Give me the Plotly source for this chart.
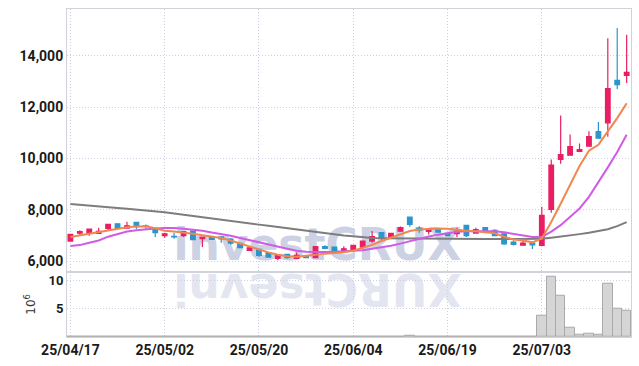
import plotly.graph_objects as go
from plotly.subplots import make_subplots

dates = ["25/04/17", "25/04/18", "25/04/21", "25/04/22", "25/04/23", "25/04/24", "25/04/25",
         "25/04/28", "25/04/29", "25/04/30", "25/05/02", "25/05/07", "25/05/08", "25/05/09",
         "25/05/12", "25/05/13", "25/05/14", "25/05/15", "25/05/16", "25/05/19", "25/05/20",
         "25/05/21", "25/05/22", "25/05/23", "25/05/26", "25/05/27", "25/05/28", "25/05/29",
         "25/05/30", "25/06/02", "25/06/04", "25/06/05", "25/06/09", "25/06/10", "25/06/11",
         "25/06/12", "25/06/13", "25/06/16", "25/06/17", "25/06/18", "25/06/19", "25/06/20",
         "25/06/23", "25/06/24", "25/06/25", "25/06/26", "25/06/27", "25/06/30", "25/07/01",
         "25/07/02", "25/07/03", "25/07/04", "25/07/07", "25/07/08", "25/07/09", "25/07/10",
         "25/07/11", "25/07/14", "25/07/15", "25/07/16"]

opens = [6780, 7090, 7090, 7080, 7270, 7455, 7285, 7505, 7370, 7260,
         6990, 6960, 6990, 7170, 6870, 6950, 6940, 6855, 6690, 6415,
         6455, 6330, 6105, 6260, 6105, 6180, 6130, 6560, 6545, 6415,
         6415, 6545, 6780, 7105, 6910, 7165, 7710, 7285, 7155, 7245,
         7080, 7065, 7390, 7090, 7300, 7195, 7060, 6740, 6620, 6700,
         6610, 8010, 9960, 10125, 10270, 10475, 11045, 11385, 13040, 13235]
highs = [7060, 7200, 7250, 7300, 7440, 7460, 7530, 7530, 7420, 7270,
         7100, 7100, 7150, 7180, 6950, 6960, 6960, 6900, 6700, 6560,
         6470, 6350, 6250, 6290, 6330, 6200, 6570, 6620, 6550, 6580,
         6620, 6790, 7170, 7110, 7100, 7350, 7740, 7360, 7280, 7260,
         7100, 7300, 7400, 7300, 7310, 7240, 7080, 6800, 6780, 6710,
         8120, 9960, 11670, 10930, 10580, 11060, 11420, 14680, 15080, 14820]
lows = [6760, 7010, 6990, 7070, 7190, 7260, 7270, 7245, 7250, 6935,
        6910, 6870, 6935, 6820, 6545, 6830, 6710, 6640, 6500, 6400,
        6170, 6140, 6030, 6090, 6090, 6110, 6120, 6460, 6380, 6370,
        6400, 6480, 6715, 6815, 6900, 7140, 7340, 7100, 7040, 7110,
        6980, 6935, 6935, 7070, 7130, 6980, 6640, 6610, 6600, 6470,
        6600, 7880, 9790, 10120, 10260, 10460, 10770, 10840, 12700, 12940]
closes = [7040, 7150, 7245, 7155, 7430, 7272, 7375, 7340, 7350, 7105,
          7065, 6940, 7145, 6830, 6935, 6845, 6860, 6700, 6520, 6520,
          6220, 6155, 6235, 6130, 6220, 6135, 6560, 6495, 6390, 6480,
          6610, 6780, 6950, 6910, 7080, 7300, 7430, 7205, 7260, 7130,
          6990, 7165, 6990, 7230, 7145, 6990, 6670, 6650, 6700, 6630,
          7780, 9735, 10150, 10460, 10345, 10850, 10785, 12720, 12875, 13350]

ma_short = [6935, 7000, 7040, 7105, 7190, 7260, 7320, 7350, 7360, 7280,
            7180, 7150, 7120, 7066, 7010, 6950, 6900, 6800, 6680, 6560,
            6450, 6340, 6250, 6190, 6170, 6200, 6250, 6290, 6320, 6340,
            6400, 6500, 6630, 6780, 6910, 7040, 7170, 7230, 7260, 7270,
            7260, 7210, 7180, 7160, 7130, 7080, 6950, 6840, 6800, 6730,
            6880, 7520, 8230, 8970, 9700, 10300, 10530, 11050, 11570, 12150]
ma_mid = [6584, 6622, 6716, 6800, 6950, 7060, 7150, 7200, 7240, 7270,
          7290, 7290, 7260, 7230, 7180, 7110, 7060, 6990, 6900, 6810,
          6720, 6650, 6560, 6480, 6400, 6360, 6350, 6350, 6355, 6380,
          6400, 6420, 6480, 6530, 6600, 6680, 6780, 6880, 6960, 7030,
          7090, 7140, 7160, 7170, 7170, 7165, 7120, 7060, 6990, 6940,
          6935, 7150, 7400, 7720, 8050, 8500, 9060, 9650, 10250, 10920]
ma_long = [8225, 8190, 8150, 8116, 8090, 8065, 8040, 8010, 7984, 7950,
           7900, 7850, 7800, 7750, 7700, 7660, 7610, 7560, 7510, 7466,
           7420, 7380, 7330, 7290, 7245, 7200, 7150, 7100, 7050, 7000,
           6970, 6925, 6900, 6890, 6885, 6880, 6875, 6872, 6870, 6868,
           6866, 6864, 6862, 6860, 6860, 6860, 6860, 6860, 6860, 6860,
           6870, 6910, 6950, 7000, 7050, 7105, 7165, 7240, 7360, 7520]

volume_m = [0.05, 0.04, 0.04, 0.03, 0.05, 0.04, 0.04, 0.05, 0.03, 0.04,
            0.04, 0.03, 0.03, 0.05, 0.04, 0.03, 0.03, 0.04, 0.04, 0.03,
            0.04, 0.03, 0.03, 0.03, 0.03, 0.02, 0.06, 0.03, 0.03, 0.03,
            0.04, 0.05, 0.08, 0.05, 0.04, 0.06, 0.22, 0.06, 0.04, 0.03,
            0.03, 0.04, 0.05, 0.03, 0.03, 0.03, 0.06, 0.04, 0.03, 0.04,
            3.8, 10.6, 7.35, 1.64, 0.4, 0.62, 0.4, 9.4, 5.0, 4.7]

y_ticks = [6000, 8000, 10000, 12000, 14000]
vol_ticks = [5, 10]
x_ticks = dates[::10]

UP = "#e91e63"
DOWN = "#2b95cc"
TICKFAM = "Roboto, Arial, sans-serif"
TICKFONT = dict(family=TICKFAM, size=14, color="#1a1a1a", weight="bold")
WMFAM = "DejaVu Sans, Arial, sans-serif"

fig = make_subplots(rows=2, cols=1, shared_xaxes=True, vertical_spacing=0,
                    row_heights=[0.801, 0.199])

fig.add_trace(go.Scatter(x=dates, y=ma_long, mode="lines",
                         line=dict(color="#7d7d7d", width=2), hoverinfo="skip"), row=1, col=1)
fig.add_trace(go.Scatter(x=dates, y=ma_mid, mode="lines",
                         line=dict(color="#cf5be6", width=2), hoverinfo="skip"), row=1, col=1)
fig.add_trace(go.Scatter(x=dates, y=ma_short, mode="lines",
                         line=dict(color="#f0874f", width=2), hoverinfo="skip"), row=1, col=1)
fig.add_trace(go.Candlestick(x=dates, open=opens, high=highs, low=lows, close=closes,
                             increasing=dict(line=dict(color=UP, width=1.2), fillcolor=UP),
                             decreasing=dict(line=dict(color=DOWN, width=1.2), fillcolor=DOWN),
                             whiskerwidth=0), row=1, col=1)
fig.add_trace(go.Bar(x=dates, y=volume_m, marker=dict(color="#d5d5d5",
                     line=dict(color="#aaaaaa", width=1)), hoverinfo="skip"), row=2, col=1)

# watermark (drawn beneath the data)
fig.add_shape(type="rect", xref="paper", yref="paper", x0=0.144, x1=0.744, y0=0.19, y1=0.39,
              layer="below", line=dict(width=0), fillcolor="rgba(0,0,0,0)",
              label=dict(text="investCRUX", textposition="middle center",
                         font=dict(family=WMFAM, size=44,
                                   color="rgba(198,203,225,0.9)", weight="bold")))
fig.add_shape(type="rect", xref="paper", yref="paper", x0=0.144, x1=0.744, y0=0.035, y1=0.235,
              layer="below", line=dict(width=0), fillcolor="rgba(0,0,0,0)",
              label=dict(text="XURCtsevni", textposition="middle center", textangle=180,
                         font=dict(family=WMFAM, size=44,
                                   color="rgba(222,225,238,0.85)", weight="bold")))

axis_common = dict(showline=True, linecolor="#d2d2da", linewidth=1, mirror=True,
                   showgrid=True, gridcolor="#cdd0e4", griddash="1px,2px", gridwidth=1,
                   zeroline=False, ticks="", automargin=False)

fig.update_xaxes(type="category", range=[-0.36, 59.46], tickvals=x_ticks, ticktext=x_ticks,
                 rangeslider=dict(visible=False), tickfont=TICKFONT, **axis_common)
fig.update_yaxes(range=[5585, 15820], tickvals=y_ticks, tickformat=",", tickfont=TICKFONT,
                 row=1, col=1, **axis_common)
fig.update_yaxes(range=[0, 11.5], tickvals=vol_ticks,
                 tickfont=dict(TICKFONT, size=13),
                 title=dict(text="10<sup>6</sup>", standoff=10,
                            font=dict(family="DejaVu Sans, sans-serif", size=12, color="#333")),
                 row=2, col=1, **axis_common)

fig.update_layout(width=639, height=366, margin=dict(l=67, r=8, t=9, b=29),
                  showlegend=False, paper_bgcolor="white", plot_bgcolor="rgba(0,0,0,0)",
                  bargap=0.0, hovermode=False)

fig.write_html("out.html", config={"displayModeBar": False},
               post_script="document.body.style.margin='0';document.body.style.padding='0';"
                           "document.body.style.overflow='hidden';")
